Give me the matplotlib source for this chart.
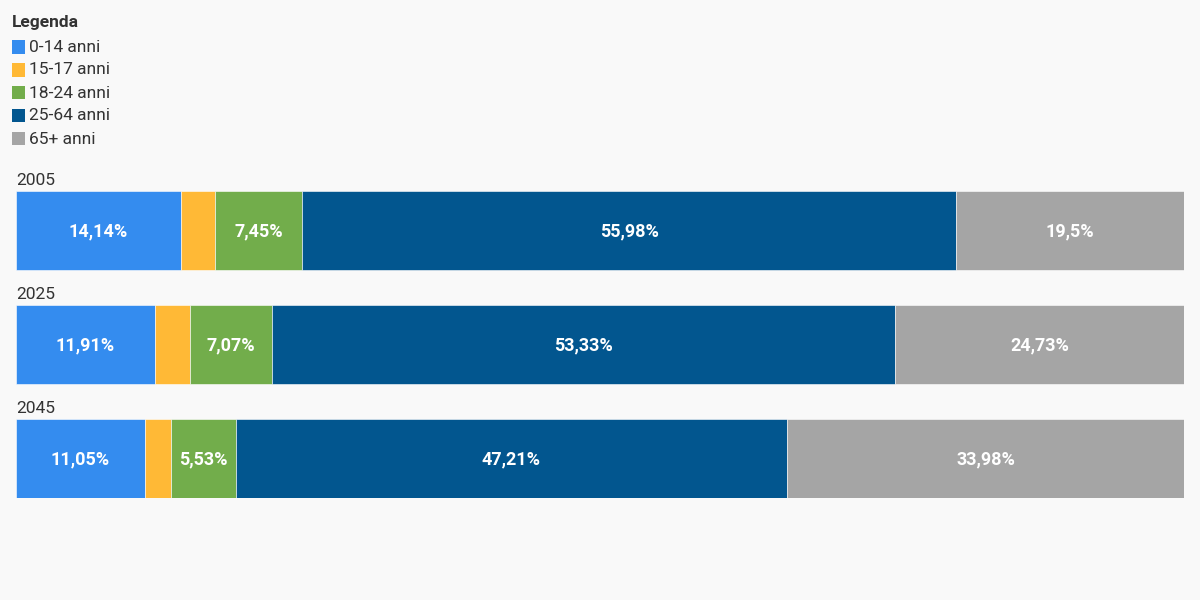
import matplotlib.pyplot as plt
from matplotlib.patches import Rectangle

years = ["2005", "2025", "2045"]
groups = ["0-14 anni", "15-17 anni", "18-24 anni", "25-64 anni", "65+ anni"]
age_0_14 = [14.14, 11.91, 11.05]
age_15_17 = [2.93, 2.96, 2.23]
age_18_24 = [7.45, 7.07, 5.53]
age_25_64 = [55.98, 53.33, 47.21]
age_65 = [19.5, 24.73, 33.98]

colors = ["#348cef", "#ffb936", "#72ad4b", "#02568f", "#a5a5a5"]
bg = "#f9f9f9"
txt = "#333333"

plt.rcParams["font.family"] = ["Roboto", "DejaVu Sans"]

W, H = 1200, 600
fig = plt.figure(figsize=(12, 6), dpi=100, facecolor=bg)

# bars area: x 16..1184 px, y 191..498 px
ax = fig.add_axes([16 / W, (H - 498) / H, 1168 / W, 307 / H])
ax.set_facecolor(bg)
bar_h = 79 / 114
ax.set_xlim(0, 100)
ax.set_ylim(2 + bar_h / 2, -bar_h / 2)
ax.axis("off")

series = [age_0_14, age_15_17, age_18_24, age_25_64, age_65]
ypos = list(range(len(years)))
left = [0.0] * len(years)
for vals, col in zip(series, colors):
    ax.barh(ypos, vals, left=left, height=bar_h, color=col,
            edgecolor="#ffffff", linewidth=0.4)
    for y, l, v in zip(ypos, left, vals):
        if v > 4:
            lab = f"{v:g}".replace(".", ",") + "%"
            ax.text(l + v / 2, y + 0.01, lab, ha="center", va="center",
                    color="white", fontsize=13, fontweight="bold")
    left = [a + b for a, b in zip(left, vals)]

for y, yr in zip(ypos, years):
    ax.text(0, y - bar_h / 2 - 0.03, yr, ha="left", va="bottom",
            color=txt, fontsize=12.5)

# legend
fig.text(12 / W, 1 - 23 / H, "Legenda", ha="left", va="center",
         color=txt, fontsize=12.5, fontweight="bold")
for i, (g, col) in enumerate(zip(groups, colors)):
    yc = 47 + 23 * i
    fig.add_artist(Rectangle((12 / W, 1 - (yc + 6.5) / H), 13 / W, 13 / H,
                             transform=fig.transFigure, facecolor=col,
                             edgecolor="none"))
    fig.text(29 / W, 1 - yc / H, g, ha="left", va="center",
             color=txt, fontsize=12.5)

fig.savefig("out.png", dpi=100, facecolor=bg)
